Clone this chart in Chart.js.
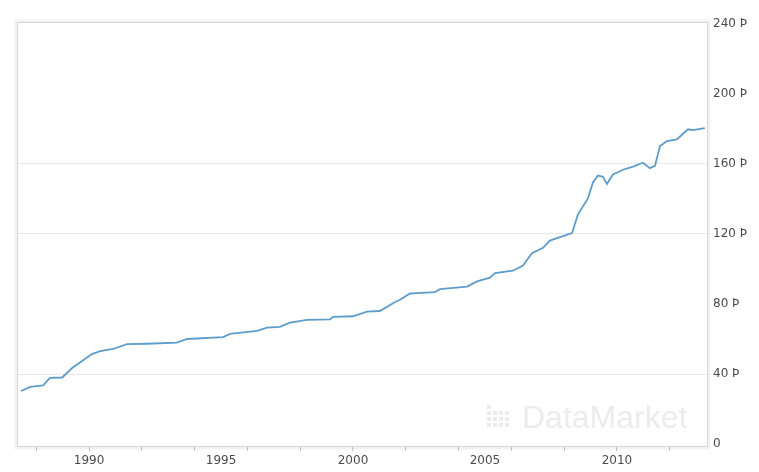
<!DOCTYPE html>
<html>
<head>
<meta charset="utf-8">
<script src="https://cdn.jsdelivr.net/npm/chart.js@4.4.0/dist/chart.umd.min.js"></script>
<style>
  html, body { margin: 0; padding: 0; background: #ffffff; }
  #wrap { width: 759px; height: 472px; position: relative; }
</style>
</head>
<body>
<div id="wrap"><canvas id="c" width="759" height="472"></canvas></div>
<script>
// ---- data ----
const years = [1987.42, 1987.77, 1988.26, 1988.52, 1988.98, 1989.36, 1990.11, 1990.42, 1990.91, 1991.44,
  1992.20, 1993.33, 1993.71, 1995.08, 1995.34, 1996.36, 1996.74, 1997.23, 1997.61, 1998.26,
  1999.13, 1999.24, 2000.00, 2000.53, 2001.02, 2001.55, 2001.78, 2002.16, 2002.42, 2003.11,
  2003.30, 2004.32, 2004.70, 2005.19, 2005.38, 2006.06, 2006.44, 2006.78, 2007.20, 2007.46,
  2007.84, 2008.30, 2008.52, 2008.90, 2009.09, 2009.28, 2009.47, 2009.62, 2009.85, 2010.23,
  2010.61, 2010.98, 2011.25, 2011.44, 2011.63, 2011.89, 2012.27, 2012.39, 2012.69, 2012.88, 2013.33];
const values = [30.3, 32.6, 33.5, 37.8, 38.0, 43.4, 51.4, 53.1, 54.3, 57.1,
  57.3, 57.9, 60.0, 61.1, 62.9, 64.6, 66.5, 66.9, 69.3, 70.9,
  71.2, 72.6, 73.0, 75.6, 76.0, 80.7, 82.4, 86.0, 86.2, 86.8,
  88.5, 89.9, 92.9, 95.0, 97.6, 99.0, 102.0, 109.0, 112.1, 116.2,
  118.2, 120.5, 131.1, 140.3, 149.4, 153.4, 152.7, 148.5, 154.0, 156.7,
  158.5, 160.7, 157.6, 158.9, 170.3, 173.0, 174.0, 175.7, 179.8, 179.3, 180.5];
const yTickValues = [0, 40, 80, 120, 160, 200, 240];
const gridLineValues = [40, 120, 160];
const xTickYears = [1988, 1989, 1990, 1991, 1992, 1993, 1994, 1995, 1996, 1997, 1998, 1999, 2000,
  2001, 2002, 2003, 2004, 2005, 2006, 2007, 2008, 2009, 2010, 2011, 2012, 2013];
const currencyMark = 'Þ';
const watermarkText = 'DataMarket';

const points = years.map((y, i) => ({ x: y, y: values[i] }));

const framePlugin = {
  id: 'frame',
  beforeDatasetsDraw(chart) {
    const { ctx, chartArea: a } = chart;
    ctx.save();
    // watermark
    ctx.fillStyle = '#ececec';
    const iconX = a.right - 221, iconY = a.bottom - 50;
    for (let r = 0; r < 4; r++) {
      for (let c = 0; c < 4; c++) {
        if (r < 1 && c > 0) continue;
        ctx.fillRect(iconX + c * 6, iconY + 8 + r * 6, 4, 4);
      }
    }
    ctx.font = '32px "Liberation Sans", Arial, sans-serif';
    ctx.textBaseline = 'alphabetic';
    ctx.textAlign = 'left';
    ctx.fillText(watermarkText, a.right - 186, a.bottom - 19);
    ctx.restore();
  },
  afterDraw(chart) {
    const { ctx, chartArea: a } = chart;
    ctx.save();
    ctx.strokeStyle = 'rgba(0,0,0,0.05)';
    ctx.lineWidth = 3;
    ctx.strokeRect(a.left - 1, a.top - 1, a.right - a.left + 2, a.bottom - a.top + 2);
    ctx.strokeStyle = '#d6d6d6';
    ctx.lineWidth = 1;
    ctx.strokeRect(a.left + 0.5, a.top + 0.5, a.right - a.left - 1, a.bottom - a.top - 1);
    ctx.restore();
  }
};

new Chart(document.getElementById('c'), {
  type: 'line',
  data: {
    datasets: [{
      data: points,
      borderColor: '#5e9cca',
      borderWidth: 1.8,
      pointRadius: 0,
      tension: 0,
      fill: false
    }]
  },
  options: {
    responsive: false,
    devicePixelRatio: 1,
    animation: false,
    layout: { padding: { left: 17, top: 22, right: 0, bottom: 0 } },
    plugins: { legend: { display: false }, tooltip: { enabled: false }, title: { display: false } },
    scales: {
      x: {
        type: 'linear',
        min: 1987.27,
        max: 2013.45,
        afterBuildTicks(scale) { scale.ticks = xTickYears.map(v => ({ value: v })); },
        afterFit(scale) { scale.height = 25; },
        border: { display: false },
        grid: {
          drawOnChartArea: false,
          drawTicks: true,
          tickLength: 4,
          tickColor: (ctx) => (ctx.tick && ctx.tick.value % 2 === 0) ? '#c4c4c4' : 'rgba(0,0,0,0)'
        },
        ticks: {
          autoSkip: false,
          maxRotation: 0,
          padding: 3,
          color: '#4a4a4a',
          font: { family: '"DejaVu Sans", sans-serif', size: 12 },
          callback: (v) => (v % 5 === 0 ? String(v) : '')
        }
      },
      y: {
        position: 'right',
        min: -1.7,
        max: 241.1,
        afterBuildTicks(scale) { scale.ticks = yTickValues.map(v => ({ value: v })); },
        afterFit(scale) { scale.width = 51; },
        border: { display: false },
        grid: {
          drawTicks: false,
          color: (ctx) => (ctx.tick && gridLineValues.includes(ctx.tick.value)) ? '#e8e8e8' : 'rgba(0,0,0,0)'
        },
        ticks: {
          padding: 5,
          color: '#4a4a4a',
          font: { family: '"DejaVu Sans", sans-serif', size: 12 },
          callback: (v) => (v === 0 ? '0' : v + ' ' + currencyMark)
        }
      }
    }
  },
  plugins: [framePlugin]
});
</script>
</body>
</html>
